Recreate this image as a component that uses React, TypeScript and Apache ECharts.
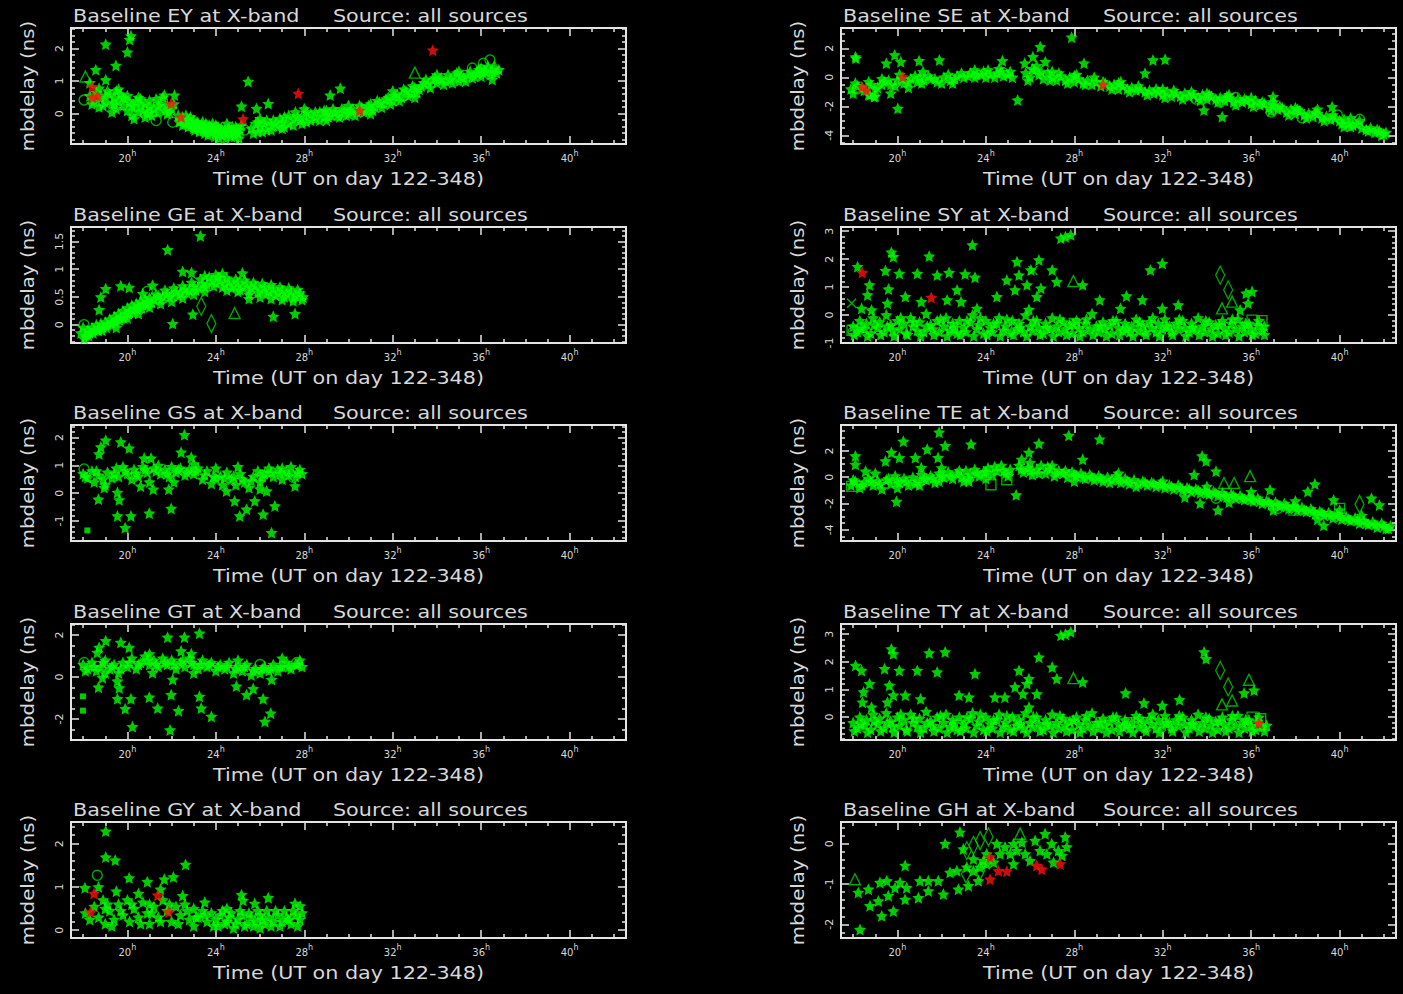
import React, { useEffect, useRef } from "react";
import * as echarts from "echarts";

type Pt = [number, number];

// ---------- tick positions shared by every panel ----------
const xMajorHours = [20, 24, 28, 32, 36, 40];
const xMinorHours = [18, 19, 21, 22, 23, 25, 26, 27, 29, 30, 31, 33, 34, 35, 37, 38, 39, 41, 42];

// ---------- Baseline EY ----------
const eyStars: Pt[] = [
  [20.16, 2.39], [20.1, 2.28], [19.02, 2.13], [20.0, 1.89], [19.48, 1.48], [18.57, 1.35], [19.02, 1.04], [18.72, 0.78],
  [18.72, 0.21], [18.3, 0.95], [21.67, 0.57], [22.13, 0.57], [25.46, 0.99], [25.16, 0.23], [25.84, 0.16], [26.37, 0.31],
  [29.17, 0.57], [29.63, 0.78],
  [18.3, 0.55], [18.5, 0.4], [18.8, 0.5], [19.0, 0.35], [19.2, 0.6], [19.3, 0.3], [19.4, 0.5], [19.5, 0.15], [19.6, 0.4],
  [19.7, 0.6], [19.8, 0.25], [19.9, 0.45], [20.0, 0.1], [20.1, 0.35], [20.2, -0.05], [20.3, 0.2], [20.4, 0.4], [20.5, 0.05],
  [20.6, 0.25], [20.7, 0.1], [20.8, 0.3], [20.9, 0.0], [21.0, 0.2], [21.1, -0.05], [21.2, 0.15], [21.4, 0.05], [21.5, 0.3],
  [21.7, 0.1], [21.8, 0.25], [21.9, 0.05], [22.0, 0.15], [19.1, 0.7], [19.6, 0.75], [20.0, 0.55], [20.5, 0.5], [21.0, 0.4],
  [21.3, 0.45], [18.9, 0.25], [19.3, 0.05], [20.8, -0.1],
  [22.3, -0.05], [22.4, -0.2], [22.5, -0.1], [22.6, -0.3], [22.7, -0.15], [22.8, -0.25], [22.9, -0.35], [23.0, -0.2],
  [23.1, -0.4], [23.2, -0.3], [23.3, -0.45], [23.4, -0.25], [23.5, -0.4], [23.6, -0.5], [23.7, -0.35], [23.8, -0.55],
  [23.9, -0.45], [24.0, -0.6], [24.1, -0.4], [24.2, -0.55], [24.3, -0.65], [24.4, -0.5], [24.5, -0.6], [24.6, -0.45],
  [24.7, -0.7], [24.8, -0.55], [24.9, -0.4], [25.0, -0.6], [25.1, -0.5], [22.5, -0.35], [23.0, -0.45], [23.5, -0.6],
  [24.0, -0.35], [24.5, -0.3],
  [25.6, -0.45], [25.8, -0.3], [25.9, -0.55], [26.0, -0.4], [26.2, -0.3], [26.3, -0.5], [26.5, -0.35], [26.6, -0.2],
  [26.8, -0.4], [27.0, -0.25], [27.1, -0.1], [27.3, -0.3], [27.5, -0.15], [27.6, 0.05], [27.8, -0.2], [28.0, -0.05],
  [28.1, -0.25], [28.3, 0.0], [28.5, -0.15], [28.7, 0.05], [28.9, -0.1], [29.0, 0.1], [29.2, -0.05], [29.4, 0.05],
  [29.6, -0.1], [29.8, 0.1], [30.0, 0.0], [30.2, 0.15], [30.4, 0.05], [30.6, 0.2], [30.8, 0.1], [31.0, 0.3], [31.2, 0.2],
  [31.4, 0.35], [31.6, 0.3], [31.8, 0.5], [32.0, 0.4], [32.2, 0.6], [32.4, 0.5], [32.6, 0.7], [32.8, 0.65], [33.0, 0.8],
  [33.2, 0.75], [33.4, 0.95], [33.6, 0.9], [33.8, 1.05], [34.0, 0.95], [34.2, 1.1], [34.4, 1.0], [34.6, 1.05], [34.8, 1.15],
  [35.0, 1.0], [35.2, 1.1], [35.4, 1.2], [35.6, 1.1], [35.8, 1.25], [36.0, 1.15], [36.2, 1.3], [36.4, 1.2], [36.6, 1.4],
  [36.8, 1.35], [26.0, -0.15], [27.0, -0.45], [28.0, 0.15], [29.0, -0.2], [30.0, 0.25], [31.0, 0.0], [32.0, 0.7],
  [33.0, 0.5], [34.0, 1.2], [35.0, 1.3], [36.0, 1.4], [36.5, 1.05],
];
const eyBandStars: Pt[] = [
  [22.35, -0.25], [22.55, -0.2], [22.65, -0.05], [22.75, -0.4], [22.85, -0.1], [22.95, -0.3], [23.05, -0.5], [23.15, -0.25],
  [23.25, -0.55], [23.35, -0.35], [23.45, -0.5], [23.55, -0.3], [23.65, -0.65], [23.75, -0.45], [23.85, -0.3], [23.95, -0.7],
  [24.05, -0.5], [24.15, -0.75], [24.25, -0.45], [24.35, -0.55], [24.45, -0.75], [24.55, -0.45], [24.65, -0.6], [24.75, -0.4],
  [24.85, -0.7], [24.95, -0.5], [25.05, -0.75], [25.15, -0.35],
  [25.7, -0.6], [25.9, -0.25], [26.1, -0.55], [26.3, -0.2], [26.5, -0.5], [26.7, -0.3], [26.9, -0.15], [27.1, -0.4],
  [27.3, -0.05], [27.5, -0.35], [27.7, -0.1], [27.9, -0.3], [28.1, 0.05], [28.3, -0.2], [28.5, 0.05], [28.7, -0.2],
  [28.9, 0.1], [29.1, -0.1], [29.3, 0.15], [29.5, -0.05], [29.7, 0.15], [29.9, -0.05], [30.1, 0.1], [30.3, -0.05],
  [30.5, 0.25], [30.7, 0.05], [30.9, 0.25], [31.1, 0.1], [31.3, 0.4], [31.5, 0.2], [31.7, 0.45], [31.9, 0.3], [32.1, 0.55],
  [32.3, 0.4], [32.5, 0.75], [32.7, 0.55], [32.9, 0.85], [33.1, 0.65], [33.3, 0.85], [33.5, 1.05], [33.7, 0.8], [33.9, 1.1],
  [34.1, 1.05], [34.3, 0.9], [34.5, 1.2], [34.7, 0.95], [34.9, 1.25], [35.1, 1.15], [35.3, 1.0], [35.5, 1.3], [35.7, 1.15],
  [35.9, 1.35], [36.1, 1.25], [36.3, 1.45], [36.5, 1.3], [36.7, 1.25],
  [18.4, 0.3], [18.6, 0.65], [19.0, 0.55], [19.4, 0.3], [19.8, 0.5], [20.2, 0.25], [20.6, 0.45], [21.0, 0.05], [21.4, 0.25],
  [21.8, 0.0], [22.1, 0.3], [20.3, -0.15], [21.6, 0.5], [19.5, 0.7],
];
const eyRed: Pt[] = [[18.41, 0.83], [18.41, 0.5], [18.64, 0.54], [21.98, 0.31], [22.43, -0.1], [25.23, -0.16], [27.73, 0.62], [33.81, 1.95], [30.5, 0.1]];
const eyCircles: Pt[] = [[18.04, 0.42], [21.3, -0.21], [22.05, -0.26], [25.3, -0.5], [35.6, 1.4], [36.1, 1.55], [36.4, 1.65], [36.0, 1.35], [29.5, -0.05], [32.5, 0.55]];
const eyTriangles: Pt[] = [[18.1, 1.14], [33.0, 1.26], [36.6, 1.45]];

// ---------- Baseline GE ----------
const geStars: Pt[] = [
  [19.02, 0.65], [18.8, 0.5], [18.72, 0.27], [19.7, 0.7], [20.08, 0.67], [21.82, 1.35], [23.3, 1.6], [22.05, 0.02],
  [22.96, 0.19], [26.6, 0.15], [27.58, 0.2], [25.2, 0.93], [22.5, 0.96], [22.9, 0.94], [25.5, 0.47], [21.14, 0.71], [20.7, 0.56],
  [17.9, -0.15], [18.0, -0.05], [18.1, -0.2], [18.2, -0.1], [18.3, -0.15], [18.4, -0.05], [18.5, -0.1], [18.6, 0.0],
  [18.7, -0.1], [18.8, 0.02], [18.9, -0.05], [19.0, 0.05], [19.1, 0.0], [19.2, 0.1], [19.3, 0.03], [19.4, 0.15], [19.5, 0.08],
  [19.6, 0.2], [19.7, 0.12], [19.8, 0.25], [19.9, 0.18], [20.0, 0.3], [20.1, 0.22], [20.2, 0.35], [20.3, 0.28], [20.4, 0.38],
  [20.5, 0.33], [20.6, 0.42], [20.7, 0.36], [20.8, 0.46], [20.9, 0.4], [21.0, 0.48], [21.2, 0.45], [21.4, 0.52], [21.6, 0.5],
  [21.8, 0.56], [22.0, 0.54], [22.2, 0.6], [22.4, 0.57], [22.6, 0.64], [22.8, 0.62], [23.0, 0.7], [23.2, 0.66], [23.4, 0.74],
  [23.6, 0.72], [23.8, 0.8], [24.0, 0.75], [24.2, 0.8], [24.4, 0.72], [24.6, 0.78], [24.8, 0.7], [25.0, 0.76], [25.2, 0.68],
  [25.4, 0.74], [25.6, 0.66], [25.8, 0.7], [26.0, 0.62], [26.2, 0.68], [26.4, 0.6], [26.6, 0.65], [26.8, 0.57], [27.0, 0.62],
  [27.2, 0.55], [27.4, 0.6], [27.6, 0.52], [27.8, 0.57], [27.95, 0.5],
  [19.5, -0.05], [20.0, 0.12], [20.5, 0.2], [21.0, 0.32], [21.5, 0.38], [22.0, 0.42], [22.5, 0.48], [23.0, 0.55], [23.5, 0.6],
  [24.0, 0.9], [24.5, 0.62], [25.0, 0.6], [25.5, 0.55], [26.0, 0.5], [26.5, 0.47], [27.0, 0.45], [27.5, 0.43], [23.5, 0.88], [24.3, 0.92],
];
const geBandStars: Pt[] = [
  [18.05, -0.25], [18.25, -0.2], [18.45, -0.15], [18.65, -0.1], [18.85, -0.1], [19.05, -0.05], [19.25, 0.0], [19.45, 0.05],
  [19.65, 0.08], [19.85, 0.12], [20.05, 0.2], [20.25, 0.22], [20.45, 0.28], [20.65, 0.3], [20.85, 0.35], [21.1, 0.4],
  [21.3, 0.55], [21.5, 0.45], [21.7, 0.62], [21.9, 0.5], [22.1, 0.66], [22.3, 0.52], [22.5, 0.7], [22.7, 0.57], [22.9, 0.76],
  [23.1, 0.62], [23.3, 0.82], [23.5, 0.68], [23.7, 0.86], [23.9, 0.7], [24.1, 0.86], [24.3, 0.68], [24.5, 0.84], [24.7, 0.66],
  [24.9, 0.82], [25.1, 0.63], [25.3, 0.8], [25.5, 0.62], [25.7, 0.76], [25.9, 0.58], [26.1, 0.74], [26.3, 0.56], [26.5, 0.72],
  [26.7, 0.53], [26.9, 0.68], [27.1, 0.5], [27.3, 0.66], [27.5, 0.48], [27.7, 0.63], [27.9, 0.45],
];
const geCircles: Pt[] = [[18.04, 0.0], [20.9, 0.6], [26.4, 0.62]];
const geDiamonds: Pt[] = [[23.34, 0.33], [23.8, 0.02]];
const geTriangles: Pt[] = [[24.85, 0.21]];

// ---------- Baseline GS ----------
const gsStars: Pt[] = [
  [19.02, 1.9], [18.72, 1.41], [18.8, 1.66], [19.7, 1.84], [20.08, 1.62], [22.58, 2.1], [22.43, 1.47], [22.89, 1.29],
  [20.76, 1.26], [21.07, 1.26], [18.69, -0.22], [18.95, 0.2], [19.55, 0.03], [19.63, -0.24], [19.55, -0.82], [20.16, -0.82],
  [19.9, -1.24], [20.99, -0.72], [21.17, 0.14], [21.87, 0.14], [21.98, -0.55], [24.48, 0.08], [24.85, -0.28], [25.08, -0.82],
  [25.39, -0.58], [25.76, -0.28], [26.14, -0.76], [26.52, -1.42], [26.67, -0.46], [26.3, 0.08], [27.58, 0.26],
  [18.0, 0.7], [18.2, 0.55], [18.4, 0.8], [18.5, 0.4], [18.7, 0.65], [18.9, 0.5], [19.1, 0.75], [19.3, 0.55], [19.5, 0.9],
  [19.6, 0.6], [19.8, 0.95], [20.0, 0.7], [20.2, 0.5], [20.3, 0.85], [20.5, 0.6], [20.7, 0.95], [20.9, 0.75], [21.0, 0.4],
  [21.2, 0.9], [21.4, 1.0], [21.5, 0.7], [21.7, 0.85], [21.9, 0.6], [22.0, 0.95], [22.2, 0.75], [22.4, 0.9], [22.6, 0.65],
  [22.8, 0.85], [23.0, 0.7], [23.2, 0.9], [23.4, 0.5], [23.6, 0.8], [23.8, 0.35], [24.0, 0.9], [24.2, 0.6], [24.3, 0.3],
  [24.5, 0.75], [24.7, 0.5], [24.9, 0.3], [25.1, 0.7], [25.3, 0.4], [25.5, 0.2], [25.7, 0.6], [25.9, 0.8], [26.0, 0.4],
  [26.2, 0.7], [26.4, 0.9], [26.6, 0.6], [26.8, 0.85], [27.0, 0.5], [27.2, 0.75], [27.4, 0.95], [27.6, 0.6], [27.8, 0.85],
  [27.9, 0.7], [19.0, 0.3], [20.6, 0.25], [22.1, 0.4], [23.0, 1.05], [24.0, 0.55], [25.0, 0.95], [26.0, 0.15], [27.0, 0.9],
  [18.1, 0.6], [18.6, 0.8], [19.4, 0.7], [19.9, 0.8], [20.4, 0.7], [20.8, 0.85], [21.3, 0.8], [21.8, 0.7], [22.3, 0.85],
  [22.7, 0.75], [23.1, 0.8], [23.5, 0.65], [23.9, 0.6], [24.4, 0.55], [24.8, 0.6], [25.2, 0.5], [25.6, 0.45], [26.1, 0.6],
  [26.5, 0.75], [26.9, 0.7], [27.3, 0.65], [27.7, 0.75],
];
const gsCircles: Pt[] = [[18.04, 0.87], [27.5, 0.57], [26.1, 0.63]];
const gsDots: Pt[] = [[18.19, -1.34]];

// ---------- Baseline GT ----------
const gtStars: Pt[] = [
  [18.72, 1.41], [19.02, 1.73], [18.64, 1.17], [19.7, 1.65], [20.08, 1.41], [21.82, 1.9], [22.58, 1.9], [23.26, 2.09],
  [22.43, 1.25], [22.89, 1.12], [18.69, -0.48], [18.87, -0.03], [19.55, -0.19], [19.63, -0.52], [19.55, -1.03], [20.16, -1.03],
  [19.9, -1.51], [20.23, -2.36], [20.99, -0.96], [21.37, -1.48], [21.98, -0.84], [21.93, -2.52], [22.31, -1.6], [23.26, -0.92],
  [23.34, -1.48], [23.8, -1.88], [21.14, 0.21], [22.05, -0.11], [24.93, -0.43], [25.39, -0.84], [25.69, -0.55], [26.14, -1.03],
  [26.22, -2.12], [26.48, -1.72], [26.52, -0.11],
  [18.0, 0.6], [18.2, 0.4], [18.4, 0.7], [18.6, 0.3], [18.8, 0.5], [19.0, 0.8], [19.2, 0.4], [19.4, 0.6], [19.6, 0.2],
  [19.8, 0.7], [20.0, 0.5], [20.2, 0.9], [20.4, 0.4], [20.6, 0.7], [20.8, 1.0], [21.0, 0.6], [21.2, 0.8], [21.4, 0.5],
  [21.6, 0.9], [21.8, 0.6], [22.0, 0.8], [22.2, 0.4], [22.4, 0.7], [22.6, 0.5], [22.8, 0.9], [23.0, 0.6], [23.2, 0.4],
  [23.4, 0.8], [23.6, 0.5], [23.8, 0.7], [24.0, 0.3], [24.2, 0.6], [24.4, 0.4], [24.6, 0.7], [24.8, 0.2], [25.0, 0.5],
  [25.2, 0.3], [25.4, 0.6], [25.6, 0.1], [25.8, 0.4], [26.0, 0.2], [26.2, 0.5], [26.4, 0.3], [26.6, 0.6], [26.8, 0.3],
  [27.0, 0.5], [27.2, 0.7], [27.4, 0.4], [27.6, 0.6], [27.8, 0.8], [27.9, 0.5], [19.0, 0.2], [21.0, 1.1], [23.0, 0.2],
  [25.0, 0.8], [27.0, 0.9],
  [18.1, 0.3], [18.5, 0.5], [18.9, 0.7], [19.3, 0.5], [19.7, 0.4], [20.1, 0.7], [20.5, 0.6], [20.9, 0.8], [21.3, 0.6],
  [21.7, 0.7], [22.1, 0.6], [22.5, 0.8], [22.9, 0.7], [23.3, 0.6], [23.7, 0.6], [24.1, 0.5], [24.5, 0.5], [24.9, 0.4],
  [25.3, 0.5], [25.7, 0.3], [26.1, 0.4], [26.5, 0.4], [26.9, 0.5], [27.3, 0.5], [27.7, 0.6],
];
const gtCircles: Pt[] = [[18.04, 0.69], [27.66, 0.69], [26.0, 0.6]];
const gtDots: Pt[] = [[17.99, -0.92], [17.99, -1.6]];

// ---------- Baseline GY ----------
const gyStars: Pt[] = [
  [19.02, 2.29], [19.02, 1.69], [19.45, 1.62], [22.63, 1.52], [20.08, 1.21], [20.9, 1.12], [21.67, 1.18], [22.08, 1.23],
  [18.69, 1.0], [18.08, 0.98], [25.16, 0.82], [25.23, 0.69], [25.76, 0.62], [26.37, 0.75], [27.58, 0.62], [27.81, 0.56],
  [18.1, 0.4], [18.3, 0.25], [18.5, 0.55], [18.7, 0.3], [18.9, 0.7], [19.0, 0.15], [19.2, 0.45], [19.4, 0.25], [19.6, 0.6],
  [19.8, 0.35], [20.0, 0.7], [20.1, 0.2], [20.3, 0.5], [20.5, 0.3], [20.7, 0.65], [20.9, 0.4], [21.0, 0.15], [21.2, 0.55],
  [21.4, 0.3], [21.6, 0.7], [21.8, 0.45], [22.0, 0.2], [22.2, 0.55], [22.4, 0.35], [22.6, 0.6], [22.8, 0.25], [23.0, 0.5],
  [23.2, 0.3], [23.4, 0.45], [23.6, 0.2], [23.8, 0.4], [24.0, 0.25], [24.2, 0.35], [24.4, 0.15], [24.6, 0.3], [24.8, 0.05],
  [25.0, 0.25], [25.2, 0.35], [25.4, 0.15], [25.6, 0.3], [25.8, 0.2], [26.0, 0.35], [26.2, 0.15], [26.4, 0.3], [26.6, 0.2],
  [26.8, 0.35], [27.0, 0.2], [27.2, 0.3], [27.4, 0.15], [27.6, 0.35], [27.8, 0.25], [27.9, 0.4], [19.5, 0.9], [20.5, 0.85],
  [21.5, 0.95], [22.5, 0.8], [23.5, 0.65], [24.5, 0.5], [19.0, 0.5], [21.0, 0.6], [23.0, 0.1], [26.0, 0.05],
  [24.1, 0.1], [24.3, 0.45], [24.5, 0.2], [24.7, 0.4], [24.9, 0.15], [25.1, 0.45], [25.3, 0.1], [25.5, 0.4], [25.7, 0.1],
  [25.9, 0.45], [26.1, 0.25], [26.3, 0.45], [26.5, 0.1], [26.7, 0.45], [26.9, 0.1], [27.1, 0.45], [27.3, 0.25], [27.5, 0.45],
  [27.7, 0.1], [19.1, 0.6], [19.3, 0.1], [19.7, 0.45], [20.2, 0.6], [20.6, 0.15], [21.1, 0.4], [21.5, 0.2], [21.9, 0.6],
  [22.3, 0.15], [22.7, 0.45], [23.1, 0.3], [23.5, 0.35], [23.9, 0.1],
];
const gyRed: Pt[] = [[18.49, 0.85], [21.87, 0.42], [21.37, 0.81], [18.34, 0.42]];
const gyCircles: Pt[] = [[18.64, 1.27]];

// ---------- Baseline SE ----------
const seStars: Pt[] = [
  [18.13, 1.31], [18.1, 1.4], [19.88, 1.54], [20.15, 1.08], [20.98, 1.15], [21.9, 1.19], [19.5, 0.97], [21.16, 0.39],
  [20.02, -2.14], [19.7, -1.1], [18.76, -1.22], [18.95, -1.34], [24.75, 1.15], [25.44, -1.57], [25.76, 0.97], [26.13, 1.42],
  [26.46, 2.11], [26.69, 1.08], [27.88, 2.76], [28.44, 0.97], [31.56, 1.19], [32.11, 1.24], [31.2, 0.28], [33.86, -2.26],
  [34.69, -2.72], [36.99, -1.34], [39.66, -2.03],
  [17.9, -0.8], [18.2, -0.6], [18.5, -0.9], [18.8, -0.5], [19.1, -0.7], [19.4, -0.3], [19.7, -0.5], [20.0, -0.2],
  [20.3, -0.4], [20.6, -0.1], [20.9, -0.3], [21.2, -0.2], [21.5, -0.1], [21.8, -0.3], [22.1, 0.0], [22.4, -0.2], [22.7, 0.1],
  [23.0, 0.0], [23.3, 0.3], [23.6, 0.2], [23.9, 0.4], [24.2, 0.2], [24.5, 0.3], [24.8, 0.1], [25.1, 0.4], [25.2, 0.0],
  [18.0, -1.1], [18.7, -1.2], [19.0, -1.3], [19.3, -0.1], [20.1, 0.2], [20.5, -0.7], [21.0, 0.0], [22.5, -0.4], [23.5, 0.5],
  [24.0, 0.0], [24.6, 0.6],
  [25.8, 0.3], [26.0, 0.0], [26.2, 0.5], [26.4, 0.2], [26.6, -0.1], [26.8, 0.3], [27.0, 0.0], [27.2, -0.2], [27.4, 0.1],
  [27.6, -0.2], [27.8, 0.0], [28.0, -0.3], [28.2, -0.1], [28.4, -0.4], [28.6, -0.2], [28.8, -0.5], [29.0, -0.3], [29.2, -0.6],
  [29.4, -0.4], [29.6, -0.6], [29.8, -0.5], [30.0, -0.8], [30.2, -0.6], [30.4, -0.8], [30.6, -0.7], [30.8, -0.9], [31.0, -0.8],
  [31.2, -1.0], [31.4, -0.9], [31.6, -1.1], [31.8, -1.0], [32.0, -1.2], [32.2, -1.0], [32.4, -1.3], [32.6, -1.1], [32.8, -1.3],
  [33.0, -1.1], [33.2, -1.3], [33.4, -1.2], [33.6, -1.4], [33.8, -1.2], [34.0, -1.5], [34.2, -1.3], [34.4, -1.5], [34.6, -1.4],
  [34.8, -1.6], [35.0, -1.4], [35.2, -1.7], [35.4, -1.5], [35.6, -1.7], [35.8, -1.6], [36.0, -1.8], [36.2, -1.6], [36.4, -1.9],
  [36.6, -1.8], [36.8, -2.1], [37.0, -1.9], [37.2, -2.2], [37.4, -2.1], [37.6, -2.4], [37.8, -2.2], [38.0, -2.5], [38.2, -2.3],
  [38.4, -2.6], [38.6, -2.5], [38.8, -2.7], [39.0, -2.5], [39.2, -2.8], [39.4, -2.7], [39.6, -2.9], [39.8, -2.8], [40.0, -3.0],
  [40.2, -2.9], [40.4, -3.2], [40.6, -3.3], [40.8, -3.2], [41.0, -3.5], [41.2, -3.6], [41.4, -3.5], [41.6, -3.8], [41.8, -3.7],
  [42.0, -3.9], [42.1, -3.8],
  [26.3, 0.8], [27.0, 0.4], [28.0, 0.1], [30.0, -0.4], [32.0, -0.8], [34.0, -1.1], [35.0, -1.2], [36.0, -1.4], [37.0, -1.7],
  [38.0, -2.1], [39.0, -2.2], [40.2, -3.4], [40.5, -2.8],
];
const seBandStars: Pt[] = [
  [25.9, -0.2], [26.1, 0.6], [26.5, 0.4], [26.9, -0.2], [27.3, 0.3], [27.7, -0.4], [28.1, 0.2], [28.5, -0.5], [28.9, 0.0],
  [29.3, -0.3], [29.7, -0.8], [30.1, -0.3], [30.5, -1.0], [30.9, -0.6], [31.3, -1.2], [31.7, -0.8], [32.1, -1.4], [32.5, -0.9],
  [32.9, -1.5], [33.3, -1.0], [33.7, -1.6], [34.1, -1.2], [34.5, -1.7], [34.9, -1.3], [35.3, -1.9], [35.7, -1.5], [36.1, -2.0],
  [36.5, -1.7], [36.9, -2.3], [37.3, -2.0], [37.7, -2.6], [38.1, -2.2], [38.5, -2.8], [38.9, -2.4], [39.3, -3.0], [39.7, -2.6],
  [40.1, -3.2], [40.5, -3.4], [40.9, -3.0], [41.3, -3.7], [41.7, -3.6], [41.9, -4.0],
  [18.1, -0.4], [18.4, -0.7], [18.7, -0.3], [19.0, -0.8], [19.3, -0.5], [19.6, -0.2], [19.9, -0.6], [20.2, -0.1], [20.5, -0.3],
  [20.8, 0.1], [21.1, -0.4], [21.4, 0.1], [21.7, -0.1], [22.0, -0.4], [22.3, 0.2], [22.6, -0.1], [22.9, 0.3], [23.2, 0.1],
  [23.5, 0.0], [23.8, 0.2], [24.1, 0.5], [24.4, 0.0], [24.7, 0.4], [25.0, 0.2],
];
const seRed: Pt[] = [[18.4, -0.65], [20.25, 0.04], [18.6, -0.9], [29.3, -0.5]];
const seCircles: Pt[] = [[34.6, -1.7], [36.9, -2.4], [38.3, -2.8], [39.9, -2.6], [40.9, -2.9], [35.3, -1.4], [33.5, -1.5], [24.8, 0.3], [18.2, -0.8]];

// ---------- Baseline SY ----------
const syStars: Pt[] = [
  [18.2, 1.73], [18.74, 1.08], [18.65, 0.72], [18.38, 0.24], [18.83, 0.18], [19.46, 1.59], [19.73, 2.25], [19.82, 2.09],
  [19.6, 0.93], [19.55, 0.42], [20.09, 1.49], [20.36, 0.66], [20.9, 1.49], [21.44, 2.11], [21.8, 1.43], [22.34, 1.52],
  [22.25, 0.54], [21.08, 0.48], [22.7, 0.9], [23.06, 1.47], [23.39, 2.51], [23.51, 1.35], [22.88, 0.48], [23.6, 0.24],
  [24.5, 0.66], [24.95, 1.25], [25.41, 1.91], [25.5, 1.43], [25.32, 0.9], [25.86, 1.08], [26.04, 1.61], [26.4, 1.97],
  [26.49, 0.96], [26.31, 0.66], [25.95, 0.2], [27.0, 1.61], [27.21, 1.19], [27.39, 2.75], [27.84, 2.87], [27.6, 2.8],
  [28.38, 1.08], [29.15, 0.54], [30.09, 0.24], [30.36, 0.68], [31.08, 0.54], [31.44, 1.61], [31.98, 1.85], [31.98, 0.24],
  [32.7, 0.36], [35.77, 0.78], [36.04, 0.84], [35.5, 0.18], [35.86, 0.42],
  [18.0, -0.4], [18.2, -0.6], [18.3, -0.2], [18.5, -0.5], [18.6, -0.3], [18.8, -0.65], [18.9, -0.1], [19.1, -0.45],
  [19.2, -0.25], [19.4, -0.6], [19.5, 0.0], [19.7, -0.35], [19.8, -0.55], [20.0, -0.2], [20.1, -0.5], [20.3, -0.3],
  [20.4, -0.65], [20.6, -0.1], [20.7, -0.4], [20.9, -0.55], [21.0, -0.25], [21.2, -0.6], [21.3, 0.05], [21.5, -0.35],
  [21.6, -0.5], [21.8, -0.2], [21.9, -0.6], [22.1, -0.4], [22.2, -0.1], [22.4, -0.55], [22.5, -0.3], [22.7, -0.65],
  [22.8, -0.2], [23.0, -0.45], [23.1, -0.6], [23.3, -0.25], [23.4, 0.0], [23.6, -0.5], [23.7, -0.35], [23.9, -0.65],
  [24.0, -0.2], [24.2, -0.45], [24.3, -0.6], [24.5, -0.3], [24.6, -0.1], [24.8, -0.55], [24.9, -0.4], [25.1, -0.65],
  [25.2, -0.2], [25.4, -0.5], [25.5, -0.3], [25.7, -0.6], [25.8, 0.0], [26.0, -0.4], [26.1, -0.55], [26.3, -0.2],
  [26.4, -0.45], [26.6, -0.65], [26.7, -0.3], [26.9, -0.5], [27.0, -0.1], [27.2, -0.4], [27.3, -0.6], [27.5, -0.25],
  [27.6, -0.5], [27.8, -0.35], [27.9, -0.65], [28.1, -0.2], [28.2, -0.45], [28.4, -0.6], [28.5, -0.3], [28.7, -0.5],
  [28.8, 0.05], [29.0, -0.4], [29.1, -0.6], [29.3, -0.25], [29.4, -0.5], [29.6, -0.35], [29.7, -0.65], [29.9, -0.2],
  [30.0, -0.45], [30.2, -0.55], [30.3, -0.3], [30.5, -0.6], [30.6, -0.4], [30.8, -0.15], [30.9, -0.55], [31.1, -0.35],
  [31.2, -0.6], [31.4, -0.25], [31.5, -0.45], [31.7, -0.6], [31.8, -0.3], [32.0, -0.5], [32.1, -0.15], [32.3, -0.4],
  [32.4, -0.6], [32.6, -0.3], [32.7, -0.5], [32.9, -0.2], [33.0, -0.45], [33.2, -0.6], [33.3, -0.3], [33.5, -0.5],
  [33.6, -0.1], [33.8, -0.4], [33.9, -0.6], [34.1, -0.25], [34.2, -0.5], [34.4, -0.35], [34.5, -0.65], [34.7, -0.2],
  [34.8, -0.45], [35.0, -0.6], [35.1, -0.3], [35.3, -0.5], [35.4, -0.15], [35.6, -0.4], [35.7, -0.6], [35.9, -0.3],
  [36.0, -0.5], [36.2, -0.65], [36.3, -0.35], [36.5, -0.55], [36.6, -0.4],
];
const syBandStars: Pt[] = [
  [18.05, -0.7], [18.35, -0.45], [18.65, -0.75], [18.95, -0.35], [19.25, -0.7], [19.55, -0.4], [19.85, -0.75], [20.15, -0.1],
  [20.45, -0.7], [20.75, -0.25], [21.05, -0.75], [21.35, -0.4], [21.65, -0.7], [21.95, -0.15], [22.25, -0.75], [22.55, -0.45],
  [22.85, -0.7], [23.15, -0.2], [23.45, -0.75], [23.75, -0.1], [24.05, -0.7], [24.35, -0.3], [24.65, -0.75], [24.95, -0.15],
  [25.25, -0.7], [25.55, -0.45], [25.85, -0.75], [26.15, -0.2], [26.45, -0.7], [26.75, -0.45], [27.05, -0.75], [27.35, -0.15],
  [27.65, -0.7], [27.95, -0.3], [28.25, -0.75], [28.55, -0.15], [28.85, -0.7], [29.15, -0.4], [29.45, -0.75], [29.75, -0.2],
  [30.05, -0.7], [30.35, -0.5], [30.65, -0.75], [30.95, -0.25], [31.25, -0.7], [31.55, -0.1], [31.85, -0.75], [32.15, -0.4],
  [32.45, -0.7], [32.75, -0.15], [33.05, -0.75], [33.35, -0.45], [33.65, -0.7], [33.95, -0.2], [34.25, -0.75], [34.55, -0.35],
  [34.85, -0.7], [35.15, -0.15], [35.45, -0.75], [35.75, -0.3], [36.05, -0.7], [36.35, -0.2], [36.6, -0.7],
];
const syRed: Pt[] = [[18.41, 1.52], [21.53, 0.63]];
const syDiamonds: Pt[] = [[34.6, 1.43], [34.96, 0.9]];
const syTriangles: Pt[] = [[34.68, 0.24], [35.14, 0.48], [27.96, 1.22]];
const syCrosses: Pt[] = [[17.93, 0.42], [26.13, 1.59]];
const sySquares: Pt[] = [[36.04, -0.18], [36.49, -0.2], [25.4, -0.36], [17.95, -0.55], [28.0, -0.3], [22.5, -0.45]];
const syCircles: Pt[] = [[18.0, -0.6], [31.0, -0.5]];

// ---------- Baseline TE ----------
const teStars: Pt[] = [
  [18.1, 1.62], [18.1, 0.97], [18.56, 0.46], [19.46, 1.24], [19.73, 1.88], [20.09, 1.49], [20.27, 2.73], [19.96, -1.85],
  [20.81, 1.49], [21.08, 0.72], [21.35, 2.13], [21.89, 3.42], [21.84, 1.49], [22.16, 2.39], [21.89, -0.31], [23.33, 2.52],
  [23.24, -0.31], [25.37, -1.34], [25.62, 1.36], [25.95, 1.88], [26.4, 2.57], [27.75, 3.17], [28.38, 1.36], [29.15, 2.9],
  [33.42, 0.2], [33.78, 1.62], [33.96, 1.24], [34.41, 0.46], [33.69, -1.98], [34.5, -2.5], [36.85, -0.96], [38.56, -1.08],
  [38.88, -0.52], [39.73, -1.73], [39.28, -3.66], [41.44, -1.6], [41.8, -2.11],
  [17.9, -0.6], [18.1, -0.3], [18.3, -0.8], [18.5, -0.4], [18.7, -0.1], [18.9, -0.6], [19.1, -0.3], [19.3, -0.9],
  [19.5, -0.2], [19.7, -0.5], [19.9, 0.1], [20.1, -0.4], [20.3, -0.1], [20.5, -0.6], [20.7, 0.0], [20.9, -0.3], [21.1, 0.2],
  [21.3, -0.2], [21.5, 0.1], [21.7, -0.4], [21.9, 0.3], [22.1, 0.0], [22.3, 0.4], [22.5, -0.1], [22.7, 0.3], [22.9, 0.0],
  [23.1, 0.5], [23.3, 0.2], [23.5, 0.6], [23.7, 0.1], [23.9, 0.4], [24.1, 0.7], [24.3, 0.2], [24.5, 0.5], [24.7, 0.9],
  [24.9, 0.3], [25.1, 0.6], [19.0, 0.3], [20.0, -0.8], [21.0, -0.6], [22.0, 0.7], [23.0, -0.3], [24.0, -0.1],
  [25.5, 0.9], [25.7, 0.4], [25.9, 0.7], [26.1, 0.2], [26.3, 0.6], [26.5, 0.9], [26.7, 0.3], [26.9, 0.6], [27.1, 0.1],
  [27.3, 0.5], [27.5, 0.3], [27.7, 0.0], [27.9, 0.4], [28.1, 0.1], [28.3, 0.3], [28.5, -0.1], [28.7, 0.2], [28.9, -0.2],
  [29.1, 0.1], [29.3, -0.3], [29.5, 0.0], [29.7, -0.2], [29.9, 0.1], [30.1, -0.4], [30.3, -0.1], [30.5, -0.5], [30.7, -0.2],
  [30.9, -0.5], [31.1, -0.3], [31.3, -0.6], [31.5, -0.4], [31.7, -0.7], [31.9, -0.5], [32.1, -0.8], [32.3, -0.6], [32.5, -0.9],
  [32.7, -0.6], [32.9, -1.0], [33.1, -0.8], [33.3, -1.1], [33.5, -0.9], [33.7, -1.2], [33.9, -1.0], [34.1, -1.3], [34.3, -1.1],
  [34.5, -1.4], [34.7, -1.2], [34.9, -1.5], [35.1, -1.3], [35.3, -1.6], [35.5, -1.4], [35.7, -1.7], [35.9, -1.5], [36.1, -1.8],
  [36.3, -1.6], [36.5, -2.0], [36.7, -1.8], [36.9, -2.1], [37.1, -1.9], [37.3, -2.2], [37.5, -2.0], [37.7, -2.4], [37.9, -2.2],
  [38.1, -2.5], [38.3, -2.3], [38.5, -2.6], [38.7, -2.4], [38.9, -2.8], [39.1, -2.6], [39.3, -2.9], [39.5, -2.7], [39.7, -3.1],
  [39.9, -2.8], [40.1, -3.2], [40.3, -3.0], [40.5, -3.3], [40.7, -3.1], [40.9, -3.5], [41.1, -3.3], [41.3, -3.6], [41.5, -3.4],
  [41.7, -3.8], [41.9, -3.5], [42.1, -3.9], [42.3, -3.7],
  [26.0, 1.1], [27.0, 0.9], [28.0, -0.3], [30.0, 0.3], [32.0, -0.3], [34.0, -0.7], [36.0, -1.1], [38.0, -1.8], [40.0, -2.5],
  [41.0, -2.9], [33.0, -1.5], [35.0, -1.9], [37.0, -2.5], [39.0, -3.2],
];
const teBandStars: Pt[] = [
  [18.0, -0.2], [18.4, -0.6], [18.8, -0.3], [19.2, -0.5], [19.6, -0.1], [20.0, -0.3], [20.4, -0.3], [20.8, -0.5], [21.2, -0.1],
  [21.6, -0.1], [22.0, 0.1], [22.4, 0.1], [22.8, 0.5], [23.2, -0.1], [23.6, 0.3], [24.0, 0.4], [24.4, 0.8], [24.8, 0.5], [25.0, 0.1],
  [25.6, 0.6], [26.0, 0.5], [26.4, 0.3], [26.8, 0.8], [27.2, 0.3], [27.6, 0.5], [28.0, 0.2], [28.4, 0.0], [28.8, 0.0],
  [29.2, -0.1], [29.6, -0.4], [30.0, -0.2], [30.4, -0.3], [30.8, -0.7], [31.2, -0.4], [31.6, -0.5], [32.0, -0.6], [32.4, -0.7],
  [32.8, -0.8], [33.2, -0.9], [33.6, -1.0], [34.0, -1.2], [34.4, -1.2], [34.8, -1.4], [35.2, -1.4], [35.6, -1.6], [36.0, -1.7],
  [36.4, -1.8], [36.8, -1.9], [37.2, -2.1], [37.6, -2.2], [38.0, -2.3], [38.4, -2.5], [38.8, -2.6], [39.2, -2.7], [39.6, -2.9],
  [40.0, -3.0], [40.4, -3.2], [40.8, -3.3], [41.2, -3.5], [41.6, -3.6], [42.0, -3.7], [42.2, -3.9],
];
const teSquares: Pt[] = [[24.23, -0.57], [24.95, -0.19], [37.93, -2.5], [40.0, -2.37], [17.93, -0.7]];
const teTriangles: Pt[] = [[34.77, -0.44], [35.23, -0.44], [35.95, 0.08]];
const teDiamonds: Pt[] = [[40.9, -2.06]];
const teCircles: Pt[] = [[37.21, -2.37], [34.41, -1.6]];

// ---------- Baseline TY ----------
const tyStars: Pt[] = [
  [18.11, 1.87], [18.38, 1.69], [18.47, 0.91], [18.74, 1.21], [18.42, 0.54], [18.83, 0.36], [19.42, 1.75], [19.73, 2.47],
  [19.82, 2.29], [19.64, 1.15], [19.55, 0.54], [19.82, 0.79], [20.09, 1.69], [20.36, 0.79], [20.9, 1.69], [21.05, 0.66],
  [21.44, 2.32], [21.8, 1.63], [22.16, 2.36], [22.79, 0.79], [23.24, 0.72], [23.51, 1.57], [24.41, 0.72], [24.86, 0.72],
  [25.32, 1.09], [25.5, 1.69], [25.95, 1.39], [25.86, 1.21], [25.68, 0.84], [26.4, 2.17], [26.31, 0.84], [25.95, 0.36],
  [27.0, 1.81], [27.21, 1.39], [27.39, 2.96], [27.84, 3.08], [27.6, 3.0], [28.38, 1.27], [30.32, 0.87], [31.15, 0.51],
  [31.98, 0.42], [32.76, 0.63], [33.87, 2.36], [33.96, 2.11], [35.68, 0.87], [36.13, 0.97],
  [18.0, -0.2], [18.2, -0.4], [18.3, 0.0], [18.5, -0.3], [18.6, -0.1], [18.8, -0.45], [18.9, 0.1], [19.1, -0.25],
  [19.2, -0.05], [19.4, -0.4], [19.5, 0.15], [19.7, -0.15], [19.8, -0.35], [20.0, 0.0], [20.1, -0.3], [20.3, -0.1],
  [20.4, -0.45], [20.6, 0.1], [20.7, -0.2], [20.9, -0.35], [21.0, -0.05], [21.2, -0.4], [21.3, 0.2], [21.5, -0.15],
  [21.6, -0.3], [21.8, 0.0], [21.9, -0.4], [22.1, -0.2], [22.2, 0.1], [22.4, -0.35], [22.5, -0.1], [22.7, -0.45],
  [22.8, 0.0], [23.0, -0.25], [23.1, -0.4], [23.3, -0.05], [23.4, 0.15], [23.6, -0.3], [23.7, -0.15], [23.9, -0.45],
  [24.0, 0.0], [24.2, -0.25], [24.3, -0.4], [24.5, -0.1], [24.6, 0.1], [24.8, -0.35], [24.9, -0.2], [25.1, -0.45],
  [25.2, 0.0], [25.4, -0.3], [25.5, -0.1], [25.7, -0.4], [25.8, 0.15], [26.0, -0.2], [26.1, -0.35], [26.3, 0.0],
  [26.4, -0.25], [26.6, -0.45], [26.7, -0.1], [26.9, -0.3], [27.0, 0.1], [27.2, -0.2], [27.3, -0.4], [27.5, -0.05],
  [27.6, -0.3], [27.8, -0.15], [27.9, -0.45], [28.1, 0.0], [28.2, -0.25], [28.4, -0.4], [28.5, -0.1], [28.7, -0.3],
  [28.8, 0.15], [29.0, -0.2], [29.1, -0.4], [29.3, -0.05], [29.4, -0.3], [29.6, -0.15], [29.7, -0.45], [29.9, 0.0],
  [30.0, -0.25], [30.2, -0.35], [30.3, -0.1], [30.5, -0.4], [30.6, -0.2], [30.8, 0.05], [30.9, -0.35], [31.1, -0.15],
  [31.2, -0.4], [31.4, -0.05], [31.5, -0.25], [31.7, -0.4], [31.8, -0.1], [32.0, -0.3], [32.1, 0.05], [32.3, -0.2],
  [32.4, -0.4], [32.6, -0.1], [32.7, -0.3], [32.9, 0.0], [33.0, -0.25], [33.2, -0.4], [33.3, -0.1], [33.5, -0.3],
  [33.6, 0.1], [33.8, -0.2], [33.9, -0.4], [34.1, -0.05], [34.2, -0.3], [34.4, -0.15], [34.5, -0.45], [34.7, 0.0],
  [34.8, -0.25], [35.0, -0.4], [35.1, -0.1], [35.3, -0.3], [35.4, 0.05], [35.6, -0.2], [35.7, -0.4], [35.9, -0.1],
  [36.0, -0.3], [36.2, -0.45], [36.3, -0.15], [36.5, -0.35], [36.7, -0.3],
];
const tyBandStars: Pt[] = [
  [18.05, -0.5], [18.35, -0.25], [18.65, -0.55], [18.95, -0.15], [19.25, -0.5], [19.55, -0.2], [19.85, -0.55], [20.15, 0.1],
  [20.45, -0.5], [20.75, -0.05], [21.05, -0.55], [21.35, -0.2], [21.65, -0.5], [21.95, 0.05], [22.25, -0.55], [22.55, -0.25],
  [22.85, -0.5], [23.15, 0.0], [23.45, -0.55], [23.75, 0.1], [24.05, -0.5], [24.35, -0.1], [24.65, -0.55], [24.95, 0.05],
  [25.25, -0.5], [25.55, -0.25], [25.85, -0.55], [26.15, 0.0], [26.45, -0.5], [26.75, -0.25], [27.05, -0.55], [27.35, 0.05],
  [27.65, -0.5], [27.95, -0.1], [28.25, -0.55], [28.55, 0.05], [28.85, -0.5], [29.15, -0.2], [29.45, -0.55], [29.75, 0.0],
  [30.05, -0.5], [30.35, -0.3], [30.65, -0.55], [30.95, -0.05], [31.25, -0.5], [31.55, 0.1], [31.85, -0.55], [32.15, -0.2],
  [32.45, -0.5], [32.75, 0.05], [33.05, -0.55], [33.35, -0.25], [33.65, -0.5], [33.95, 0.0], [34.25, -0.55], [34.55, -0.15],
  [34.85, -0.5], [35.15, 0.05], [35.45, -0.55], [35.75, -0.1], [36.05, -0.5], [36.35, 0.0], [36.6, -0.5],
];
const tyRed: Pt[] = [[36.35, -0.22]];
const tyDiamonds: Pt[] = [[34.6, 1.69], [34.96, 1.09]];
const tyTriangles: Pt[] = [[34.68, 0.46], [35.14, 0.6], [27.96, 1.41], [35.9, 1.35]];
const tySquares: Pt[] = [[36.04, 0.0], [36.43, -0.06], [25.5, -0.1], [22.7, -0.3], [30.5, -0.2]];

// ---------- Baseline GH ----------
const ghStars: Pt[] = [
  [18.31, -2.13], [18.23, -1.21], [18.69, -1.13], [18.76, -1.54], [19.14, -1.42], [19.29, -1.79], [19.21, -0.96],
  [19.52, -0.92], [19.59, -1.29], [19.82, -1.67], [19.89, -1.09], [20.12, -0.96], [20.35, -0.54], [20.35, -1.38],
  [20.42, -1.09], [20.95, -1.34], [21.02, -0.92], [21.4, -0.92], [21.4, -1.17], [21.85, -0.92], [22.08, -1.25],
  [22.16, 0.0], [22.38, -0.71], [22.69, -0.67], [22.76, -1.13], [22.83, 0.29], [22.98, -0.13], [23.14, -0.58],
  [23.21, -1.04], [23.44, -0.67], [23.66, -0.92], [23.74, -0.58], [23.89, -0.42], [24.04, -0.25], [24.35, -0.46],
  [24.5, 0.0], [24.64, -0.25], [24.87, -0.08], [25.1, -0.25], [25.25, -0.5], [25.4, -0.17], [25.63, 0.04], [25.78, -0.25],
  [26.0, -0.42], [26.23, 0.08], [26.45, -0.17], [26.68, 0.25], [26.76, -0.25], [26.98, 0.0], [27.06, -0.46], [27.28, -0.17],
  [27.44, -0.29], [27.59, 0.17], [27.66, -0.08], [23.44, -0.38], [24.04, -0.5], [25.25, 0.0],
];
const ghRed: Pt[] = [[24.19, -0.33], [24.19, -0.88], [24.57, -0.67], [24.95, -0.68], [26.3, -0.54], [26.53, -0.63], [27.36, -0.5]];
const ghDiamonds: Pt[] = [[23.44, -0.04], [23.74, 0.08], [24.12, 0.17], [23.14, -0.17], [23.1, -0.75], [23.74, -0.67]];
const ghTriangles: Pt[] = [[18.08, -0.88], [25.55, 0.25]];

// ---------- drawing ----------
const GREEN = "#00ff00";
const OPEN_GREEN = "#00d400";
const RED = "#ff1010";
const TEXT = "#d8d8d8";
const FRAME = "#e4e4e4";
const FONT = '"DejaVu Sans", "Liberation Sans", sans-serif';

// five-pointed star marker with fairly wide arms
const STAR = "path://M50,0 L64.1,30.6 L97.6,34.5 L72.8,57.4 L79.4,90.5 L50,74 L20.6,90.5 L27.2,57.4 L2.4,34.5 L35.9,30.6 Z";
const CROSS = "path://M0,0 L100,100 M100,0 L0,100";

const X_MIN = 17.45;
const X_MAX = 42.55;
const COL_LEFT = [71, 841];
const ROW_TOP = [28, 227, 425, 624, 822];
const PW = 555;
const PH = 116;

type Marks = {
  stars: Pt[];
  red?: Pt[];
  circles?: Pt[];
  triangles?: Pt[];
  diamonds?: Pt[];
  squares?: Pt[];
  crosses?: Pt[];
  dots?: Pt[];
};

type Panel = {
  name: string;
  col: number;
  row: number;
  yMin: number;
  yMax: number;
  yMajor: number[];
  yMinorStep: number;
  marks: Marks;
};

const panels: Panel[] = [
  { name: "EY", col: 0, row: 0, yMin: -0.93, yMax: 2.63, yMajor: [0, 1, 2], yMinorStep: 0.2,
    marks: { stars: [...eyStars, ...eyBandStars], red: eyRed, circles: eyCircles, triangles: eyTriangles } },
  { name: "GE", col: 0, row: 1, yMin: -0.33, yMax: 1.76, yMajor: [0, 0.5, 1, 1.5], yMinorStep: 0.1,
    marks: { stars: [...geStars, ...geBandStars], circles: geCircles, diamonds: geDiamonds, triangles: geTriangles } },
  { name: "GS", col: 0, row: 2, yMin: -1.72, yMax: 2.45, yMajor: [-1, 0, 1, 2], yMinorStep: 0.2,
    marks: { stars: gsStars, circles: gsCircles, dots: gsDots } },
  { name: "GT", col: 0, row: 3, yMin: -3.0, yMax: 2.53, yMajor: [-2, 0, 2], yMinorStep: 0.5,
    marks: { stars: gtStars, circles: gtCircles, dots: gtDots } },
  { name: "GY", col: 0, row: 4, yMin: -0.18, yMax: 2.5, yMajor: [0, 1, 2], yMinorStep: 0.2,
    marks: { stars: gyStars, red: gyRed, circles: gyCircles } },
  { name: "SE", col: 1, row: 0, yMin: -4.6, yMax: 3.4, yMajor: [-4, -2, 0, 2], yMinorStep: 0.5,
    marks: { stars: [...seStars, ...seBandStars], red: seRed, circles: seCircles } },
  { name: "SY", col: 1, row: 1, yMin: -1.0, yMax: 3.15, yMajor: [-1, 0, 1, 2, 3], yMinorStep: 0.2,
    marks: { stars: [...syStars, ...syBandStars], red: syRed, diamonds: syDiamonds, triangles: syTriangles, crosses: syCrosses, squares: sySquares, circles: syCircles } },
  { name: "TE", col: 1, row: 2, yMin: -4.85, yMax: 3.97, yMajor: [-4, -2, 0, 2], yMinorStep: 0.5,
    marks: { stars: [...teStars, ...teBandStars], squares: teSquares, triangles: teTriangles, diamonds: teDiamonds, circles: teCircles } },
  { name: "TY", col: 1, row: 3, yMin: -0.83, yMax: 3.37, yMajor: [0, 1, 2, 3], yMinorStep: 0.2,
    marks: { stars: [...tyStars, ...tyBandStars], red: tyRed, diamonds: tyDiamonds, triangles: tyTriangles, squares: tySquares } },
  { name: "GH", col: 1, row: 4, yMin: -2.34, yMax: 0.54, yMajor: [-2, -1, 0], yMinorStep: 0.2,
    marks: { stars: ghStars, red: ghRed, diamonds: ghDiamonds, triangles: ghTriangles } },
];

function minorValues(min: number, max: number, step: number): number[] {
  const out: number[] = [];
  for (let k = Math.ceil(min / step - 1e-9); k * step <= max + 1e-9; k++) {
    out.push(Math.round(k * step * 1000) / 1000);
  }
  return out;
}

const openStyle = { color: "rgba(0,0,0,0)", borderColor: OPEN_GREEN, borderWidth: 1.4 };

function buildOption() {
  const grid: any[] = [];
  const xAxis: any[] = [];
  const yAxis: any[] = [];
  const series: any[] = [];
  const graphic: any[] = [];

  panels.forEach((p, gi) => {
    const L = COL_LEFT[p.col];
    const T = ROW_TOP[p.row];
    grid.push({ left: L, top: T, width: PW, height: PH, show: true, borderColor: FRAME, borderWidth: 2, backgroundColor: "transparent" });

    const xAx = (position: string, values: number[], len: number, labels: boolean) => ({
      type: "value", gridIndex: gi, position, min: X_MIN, max: X_MAX,
      axisLine: { show: false, onZero: false }, splitLine: { show: false },
      axisTick: { show: true, inside: true, length: len, customValues: values, lineStyle: { color: FRAME, width: 1.5 } },
      axisLabel: labels
        ? {
            show: true, customValues: values, formatter: (v: number) => `{n|${v}}{h|h}`, margin: 5,
            rich: {
              n: { color: TEXT, fontSize: 10, fontFamily: FONT, lineHeight: 14, verticalAlign: "bottom" },
              h: { color: TEXT, fontSize: 8, fontFamily: FONT, lineHeight: 14, verticalAlign: "top" },
            },
          }
        : { show: false, customValues: values },
    });
    xAxis.push(xAx("bottom", xMajorHours, 8, true));
    xAxis.push(xAx("bottom", xMinorHours, 4, false));
    xAxis.push(xAx("top", xMajorHours, 8, false));
    xAxis.push(xAx("top", xMinorHours, 4, false));

    const minor = minorValues(p.yMin, p.yMax, p.yMinorStep).filter((v) => !p.yMajor.includes(v));
    const yAx = (position: string, values: number[], len: number, labels: boolean) => ({
      type: "value", gridIndex: gi, position, min: p.yMin, max: p.yMax,
      axisLine: { show: false, onZero: false }, splitLine: { show: false },
      axisTick: { show: true, inside: true, length: len, customValues: values, lineStyle: { color: FRAME, width: 1.5 } },
      axisLabel: labels
        ? { show: true, customValues: values, rotate: 90, formatter: (v: number) => String(v), color: TEXT, fontSize: 11, fontFamily: FONT, margin: 6 }
        : { show: false, customValues: values },
    });
    yAxis.push(yAx("left", p.yMajor, 8, true));
    yAxis.push(yAx("left", minor, 4, false));
    yAxis.push(yAx("right", p.yMajor, 8, false));
    yAxis.push(yAx("right", minor, 4, false));

    const base = { type: "scatter", xAxisIndex: gi * 4, yAxisIndex: gi * 4, silent: true };
    const m = p.marks;
    const add = (data: Pt[] | undefined, symbol: string, size: any, itemStyle: any) => {
      if (data && data.length) series.push({ ...base, data, symbol, symbolSize: size, itemStyle });
    };
    add(m.circles, "circle", 10, openStyle);
    add(m.squares, "rect", 10, openStyle);
    add(m.triangles, "triangle", 11, openStyle);
    add(m.diamonds, "diamond", [9, 18], openStyle);
    add(m.crosses, CROSS, 9, openStyle);
    add(m.stars, STAR, 12, { color: GREEN });
    add(m.dots, "rect", 6, { color: GREEN });
    add(m.red, STAR, 12, { color: RED });

    const titleStyle = { fill: TEXT, fontSize: 18, fontFamily: FONT, textVerticalAlign: "middle" };
    graphic.push({ type: "text", x: L + 2, y: T - 12, scaleX: 1.15, silent: true,
      style: { ...titleStyle, text: `Baseline ${p.name} at X-band`, textAlign: "left" } });
    graphic.push({ type: "text", x: L + 262, y: T - 12, scaleX: 1.15, silent: true,
      style: { ...titleStyle, text: "Source: all sources", textAlign: "left" } });
    graphic.push({ type: "text", x: L + PW / 2, y: T + PH + 35, scaleX: 1.15, silent: true,
      style: { ...titleStyle, text: "Time (UT on day 122-348)", textAlign: "center" } });
    graphic.push({ type: "text", x: L - 44, y: T + PH / 2, rotation: Math.PI / 2, scaleX: 1.1, silent: true,
      style: { ...titleStyle, text: "mbdelay (ns)", textAlign: "center" } });
  });

  return { animation: false, backgroundColor: "#000", grid, xAxis, yAxis, series, graphic };
}

export default function App() {
  const ref = useRef<HTMLDivElement>(null);
  useEffect(() => {
    document.body.style.margin = "0";
    document.body.style.background = "#000";
    if (!ref.current) return;
    const chart = echarts.init(ref.current, undefined, { renderer: "svg" });
    chart.setOption(buildOption() as any);
    return () => chart.dispose();
  }, []);
  return <div ref={ref} style={{ position: "absolute", left: 0, top: 0, width: 1403, height: 994, background: "#000" }} />;
}
